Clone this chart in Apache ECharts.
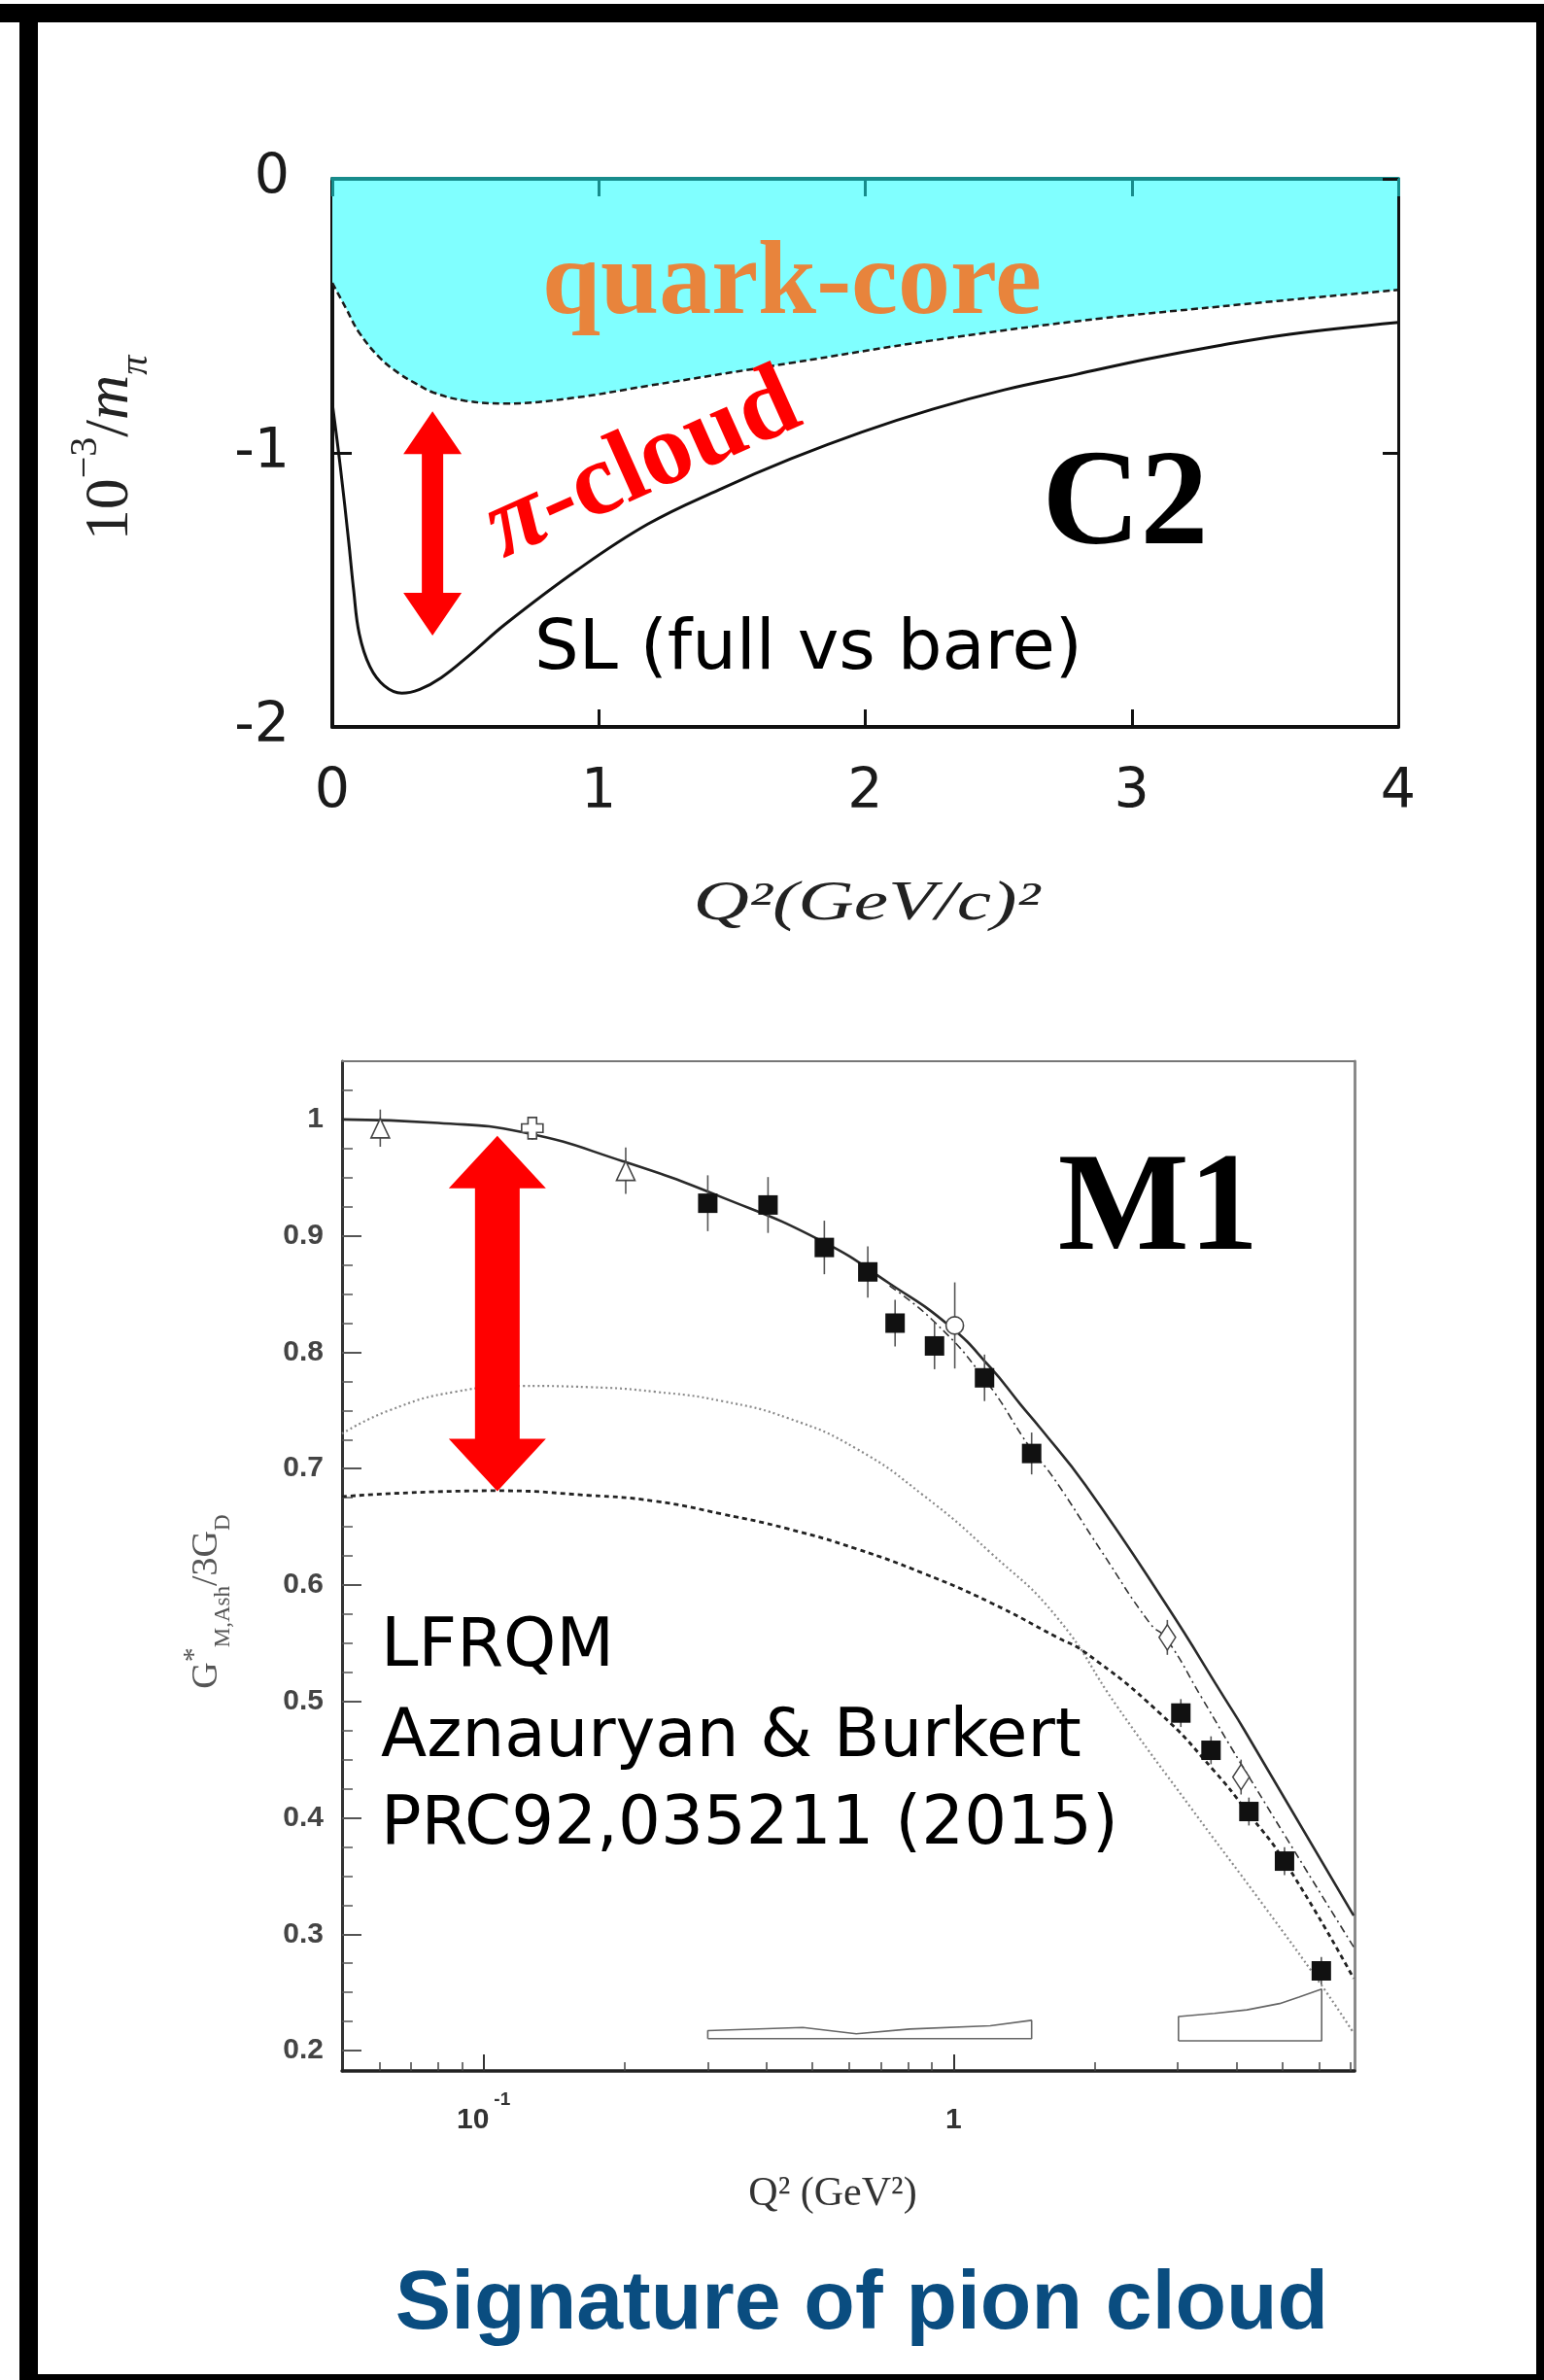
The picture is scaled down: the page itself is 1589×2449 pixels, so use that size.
<!DOCTYPE html>
<html>
<head>
<meta charset="utf-8">
<script src="https://cdn.jsdelivr.net/npm/echarts@6/dist/echarts.min.js"></script>
<style>
  html, body { margin: 0; padding: 0; background: #ffffff; }
  #chart { width: 1589px; height: 2449px; }
</style>
</head>
<body>
<div id="chart"></div>
<script>
// ---------- C2 panel: 10^-3 / m_pi versus Q^2 (GeV/c)^2 ----------
const c2Q2Bare = [0, 0.05, 0.1, 0.18, 0.25, 0.31, 0.38, 0.5, 0.65, 0.9, 1.18, 1.72, 2.25, 2.79, 3.33, 4.0];
const c2Bare   = [-0.38, -0.47, -0.56, -0.655, -0.71, -0.745, -0.78, -0.81, -0.82, -0.80, -0.756, -0.672, -0.59, -0.52, -0.466, -0.405];

const c2Q2Full = [0, 0.03, 0.061, 0.08, 0.101, 0.141, 0.195, 0.261, 0.328, 0.408, 0.516, 0.649, 0.917, 1.184, 1.452, 1.72, 1.987, 2.255, 2.522, 2.79, 3.057, 3.325, 3.592, 4.0];
const c2Full   = [-0.82, -1.05, -1.32, -1.50, -1.66, -1.78, -1.85, -1.877, -1.863, -1.821, -1.737, -1.625, -1.429, -1.26, -1.134, -1.022, -0.924, -0.84, -0.77, -0.714, -0.658, -0.609, -0.567, -0.524];

// pion-cloud gap marker: [Q2, top, bottom]
const c2CloudArrow = [0.376, -0.848, -1.667];

// ---------- M1 panel: G*_M,Ash / 3G_D versus Q^2 (GeV^2) ----------
const m1Q2Full = [0.05, 0.08, 0.121, 0.198, 0.322, 0.527, 0.731, 0.981, 1.197, 1.389, 1.528, 1.907, 2.835, 3.77, 4.148, 7.1];
const m1Full   = [1.0, 0.997, 0.989, 0.964, 0.933, 0.895, 0.859, 0.8225, 0.787, 0.755, 0.735, 0.686, 0.583, 0.503, 0.476, 0.316];

const m1Q2DashDot = [0.731, 0.911, 1.164, 1.466, 1.626, 2.064, 2.618, 2.835, 3.375, 4.08, 7.1];
const m1DashDot   = [0.857, 0.826, 0.777, 0.716, 0.693, 0.629, 0.567, 0.554, 0.503, 0.447, 0.289];

const m1Q2Dashed = [0.05, 0.106, 0.168, 0.232, 0.322, 0.447, 0.622, 0.863, 1.197, 1.661, 1.907, 2.745, 3.59, 4.2, 5.09, 7.1];
const m1Dashed   = [0.676, 0.681, 0.677, 0.672, 0.661, 0.648, 0.631, 0.610, 0.585, 0.555, 0.542, 0.490, 0.440, 0.406, 0.361, 0.262];

const m1Q2Dotted = [0.05, 0.063, 0.087, 0.121, 0.168, 0.232, 0.322, 0.447, 0.622, 0.863, 1.197, 1.661, 2.234, 3.193, 4.561, 6.069, 7.1];
const m1Dotted   = [0.730, 0.750, 0.766, 0.771, 0.770, 0.766, 0.758, 0.743, 0.717, 0.677, 0.628, 0.572, 0.495, 0.409, 0.325, 0.256, 0.215];

// measured points: Q2, value, error
const sqQ2  = [0.300, 0.403, 0.531, 0.657, 0.751, 0.911, 1.164, 1.466, 3.045, 3.53, 4.25, 5.06, 6.06];
const sqVal = [0.928, 0.9265, 0.890, 0.869, 0.825, 0.8054, 0.778, 0.713, 0.490, 0.458, 0.4054, 0.3628, 0.2685];
const sqErr = [0.024, 0.024, 0.023, 0.022, 0.020, 0.020, 0.020, 0.018, 0.012, 0.012, 0.012, 0.012, 0.012];

const triQ2  = [0.0603, 0.2007];
const triVal = [0.9925, 0.956];
const triErr = [0.016, 0.020];

const crossQ2  = [0.127];
const crossVal = [0.9925];
const crossErr = [0.010];

const circQ2  = [1.006];
const circVal = [0.823];
const circErr = [0.037];

const diaQ2  = [2.85, 4.09];
const diaVal = [0.555, 0.435];
const diaErr = [0.015, 0.015];

// systematic-uncertainty outlines
const band1Q2  = [0.300, 1.466, 1.466, 1.197, 0.807, 0.621, 0.478, 0.300, 0.300];
const band1Val = [0.2102, 0.2102, 0.226, 0.2213, 0.2185, 0.2144, 0.2199, 0.2171, 0.2102];
const band2Q2  = [3.01, 6.07, 6.07, 5.43, 4.94, 4.21, 3.59, 3.01, 3.01];
const band2Val = [0.2084, 0.2084, 0.2529, 0.246, 0.2404, 0.235, 0.232, 0.2292, 0.2084];

const m1CloudArrow = [0.107, 0.986, 0.6806];

// tick positions
const m1YMajor = [0.2, 0.3, 0.4, 0.5, 0.6, 0.7, 0.8, 0.9, 1];
const m1YMinor = [0.2, 0.225, 0.25, 0.275, 0.3, 0.325, 0.35, 0.375, 0.4, 0.425, 0.45, 0.475, 0.5, 0.525, 0.55, 0.575, 0.6, 0.625, 0.65, 0.675, 0.7, 0.725, 0.75, 0.775, 0.8, 0.825, 0.85, 0.875, 0.9, 0.925, 0.95, 0.975, 1, 1.025];
const m1XMajor = [0.1, 1];
const m1XMinor = [0.06, 0.07, 0.08, 0.09, 0.2, 0.3, 0.4, 0.5, 0.6, 0.7, 0.8, 0.9, 2, 3, 4, 5, 6, 7];

// ---------- helpers ----------
const zip = (xs, ys) => xs.map((x, i) => [x, ys[i]]);
const zip3 = (xs, ys, es) => xs.map((x, i) => [x, ys[i], es[i]]);

function errorBarItem(params, api) {
  const x = api.value(0), y = api.value(1), e = api.value(2);
  const lo = api.coord([x, y - e]);
  const hi = api.coord([x, y + e]);
  return {
    type: 'line',
    shape: { x1: lo[0], y1: lo[1], x2: hi[0], y2: hi[1] },
    style: { stroke: '#555', lineWidth: 1.6 }
  };
}

function doubleArrow(head, halfHead, halfShaft) {
  return function (params, api) {
    const top = api.coord([api.value(0), api.value(1)]);
    const bot = api.coord([api.value(0), api.value(2)]);
    const cx = top[0];
    const pts = [
      [cx, top[1]],
      [cx + halfHead, top[1] + head],
      [cx + halfShaft, top[1] + head],
      [cx + halfShaft, bot[1] - head],
      [cx + halfHead, bot[1] - head],
      [cx, bot[1]],
      [cx - halfHead, bot[1] - head],
      [cx - halfShaft, bot[1] - head],
      [cx - halfShaft, top[1] + head],
      [cx - halfHead, top[1] + head]
    ];
    return { type: 'polygon', shape: { points: pts }, style: { fill: '#ff0000' } };
  };
}

const serif = '"Liberation Serif", "Times New Roman", serif';
const comic = '"Comic Sans MS", "DejaVu Sans", sans-serif';
const CROSS_PATH = 'path://M3,0 H7 V3 H10 V7 H7 V10 H3 V7 H0 V3 H3 Z';

function textEl(x, y, text, font, fill, extra) {
  return Object.assign({
    type: 'text', x: x, y: y, z: 50,
    style: Object.assign({
      text: text, font: font, fill: fill,
      align: 'center', textAlign: 'center',
      verticalAlign: 'middle', textVerticalAlign: 'middle'
    }, (extra && extra.style) || {})
  }, (extra && extra.el) || {});
}

const chart = echarts.init(document.getElementById('chart'), null, { renderer: 'canvas', width: 1589, height: 2449 });

const option = {
  backgroundColor: '#ffffff',
  animation: false,
  grid: [
    { left: 342, top: 184, width: 1097, height: 564 },
    { left: 352, top: 1092, width: 1042, height: 1039 }
  ],
  xAxis: [
    { gridIndex: 0, type: 'value', min: 0, max: 4, interval: 1, position: 'bottom',
      axisLine: { onZero: false, lineStyle: { color: '#111', width: 4 } },
      axisTick: { inside: true, length: 18, lineStyle: { color: '#111', width: 3 } },
      axisLabel: { margin: 40, fontSize: 57, fontFamily: 'DejaVu Sans', color: '#1a1a1a' },
      splitLine: { show: false } },
    { gridIndex: 0, type: 'value', min: 0, max: 4, interval: 1, position: 'top', z: 5,
      axisLine: { onZero: false, lineStyle: { color: '#178c8c', width: 4 } },
      axisTick: { inside: true, length: 18, lineStyle: { color: '#178c8c', width: 3 } },
      axisLabel: { show: false }, splitLine: { show: false } },
    { gridIndex: 1, type: 'log', logBase: 10, min: 0.05, max: 7.13, position: 'bottom',
      axisLine: { onZero: false, lineStyle: { color: '#222', width: 3.5 } },
      axisTick: { inside: true, length: 17, customValues: m1XMajor, lineStyle: { color: '#333', width: 2 } },
      minorTick: { show: false },
      axisLabel: {
        customValues: m1XMajor, margin: 20,
        formatter: function (v) { return Math.abs(v - 0.1) < 1e-9 ? '{b|10}{s|-1}' : '{b|' + v + '}'; },
        rich: {
          b: { fontSize: 30, fontWeight: 'bold', fontFamily: '"Liberation Sans Narrow", "Liberation Sans"', color: '#333', lineHeight: 46, verticalAlign: 'bottom' },
          s: { fontSize: 19, fontWeight: 'bold', fontFamily: '"Liberation Sans Narrow", "Liberation Sans"', color: '#333', lineHeight: 22, verticalAlign: 'top', padding: [0, 0, 0, 5] }
        }
      },
      splitLine: { show: false } },
    { gridIndex: 1, type: 'log', logBase: 10, min: 0.05, max: 7.13, position: 'bottom',
      axisLine: { show: false },
      axisTick: { inside: true, length: 9, customValues: m1XMinor, lineStyle: { color: '#444', width: 1.5 } },
      axisLabel: { show: false }, splitLine: { show: false } },
    { gridIndex: 1, type: 'log', logBase: 10, min: 0.05, max: 7.13, position: 'top',
      axisLine: { lineStyle: { color: '#777', width: 2 } },
      axisTick: { show: false }, axisLabel: { show: false }, splitLine: { show: false } }
  ],
  yAxis: [
    { gridIndex: 0, type: 'value', min: -2, max: 0, interval: 1, position: 'left',
      axisLine: { onZero: false, lineStyle: { color: '#111', width: 4 } },
      axisTick: { inside: true, length: 20, lineStyle: { color: '#111', width: 3 } },
      axisLabel: { margin: 44, fontSize: 57, fontFamily: 'DejaVu Sans', color: '#1a1a1a' },
      splitLine: { show: false } },
    { gridIndex: 0, type: 'value', min: -2, max: 0, interval: 1, position: 'right', z: 5,
      axisLine: { onZero: false, lineStyle: { color: '#111', width: 3 } },
      axisTick: { inside: true, length: 16, lineStyle: { color: '#111', width: 3 } },
      axisLabel: { show: false }, splitLine: { show: false } },
    { gridIndex: 1, type: 'value', min: 0.1825, max: 1.05, position: 'left',
      axisLine: { onZero: false, lineStyle: { color: '#333', width: 3 } },
      axisTick: { inside: true, length: 20, customValues: m1YMajor, lineStyle: { color: '#555', width: 2 } },
      axisLabel: { customValues: m1YMajor, margin: 19, fontSize: 30, fontWeight: 'bold', fontFamily: '"Liberation Sans"', color: '#444' },
      splitLine: { show: false } },
    { gridIndex: 1, type: 'value', min: 0.1825, max: 1.05, position: 'left',
      axisLine: { show: false },
      axisTick: { inside: true, length: 11, customValues: m1YMinor, lineStyle: { color: '#555', width: 1.5 } },
      axisLabel: { show: false }, splitLine: { show: false } },
    { gridIndex: 1, type: 'value', min: 0.1825, max: 1.05, position: 'right',
      axisLine: { onZero: false, lineStyle: { color: '#8a8a8a', width: 3 } },
      axisTick: { show: false }, axisLabel: { show: false }, splitLine: { show: false } }
  ],
  series: [
    // C2: bare quark core with shaded region up to zero
    { type: 'line', xAxisIndex: 0, yAxisIndex: 0, data: zip(c2Q2Bare, c2Bare),
      symbol: 'none', smooth: 0.4, z: 2,
      lineStyle: { color: '#1a1a1a', width: 2.5, type: [7, 4] },
      areaStyle: { color: '#80ffff', opacity: 1, origin: 'end' } },
    // C2: full result
    { type: 'line', xAxisIndex: 0, yAxisIndex: 0, data: zip(c2Q2Full, c2Full),
      symbol: 'none', smooth: 0.4, z: 3,
      lineStyle: { color: '#111', width: 3 } },
    { type: 'custom', xAxisIndex: 0, yAxisIndex: 0, data: [c2CloudArrow], z: 6,
      encode: { x: 0, y: [1, 2] }, renderItem: doubleArrow(44, 30, 11) },

    // M1 curves
    { type: 'line', xAxisIndex: 2, yAxisIndex: 2, data: zip(m1Q2Dotted, m1Dotted),
      symbol: 'none', smooth: 0.5, z: 2, lineStyle: { color: '#8a8a8a', width: 2.2, type: [2, 3] } },
    { type: 'line', xAxisIndex: 2, yAxisIndex: 2, data: zip(m1Q2Dashed, m1Dashed),
      symbol: 'none', smooth: 0.5, z: 2, lineStyle: { color: '#222', width: 2.8, type: [5, 4] } },
    { type: 'line', xAxisIndex: 2, yAxisIndex: 2, data: zip(m1Q2DashDot, m1DashDot),
      symbol: 'none', smooth: 0.5, z: 2, lineStyle: { color: '#333', width: 1.6, type: [8, 4, 2, 4] } },
    { type: 'line', xAxisIndex: 2, yAxisIndex: 2, data: zip(m1Q2Full, m1Full),
      symbol: 'none', smooth: 0.5, z: 3, lineStyle: { color: '#2a2a2a', width: 2.6 } },
    { type: 'line', xAxisIndex: 2, yAxisIndex: 2, data: zip(band1Q2, band1Val),
      symbol: 'none', z: 2, lineStyle: { color: '#666', width: 1.6 } },
    { type: 'line', xAxisIndex: 2, yAxisIndex: 2, data: zip(band2Q2, band2Val),
      symbol: 'none', z: 2, lineStyle: { color: '#666', width: 1.6 } },

    // M1 error bars
    { type: 'custom', xAxisIndex: 2, yAxisIndex: 2, z: 4, encode: { x: 0, y: 1 }, renderItem: errorBarItem,
      data: zip3(sqQ2, sqVal, sqErr).concat(zip3(triQ2, triVal, triErr), zip3(crossQ2, crossVal, crossErr),
                                             zip3(circQ2, circVal, circErr), zip3(diaQ2, diaVal, diaErr)) },

    // M1 markers
    { type: 'scatter', xAxisIndex: 2, yAxisIndex: 2, z: 5, data: zip(sqQ2, sqVal),
      symbol: 'rect', symbolSize: 20, itemStyle: { color: '#111', opacity: 1 } },
    { type: 'scatter', xAxisIndex: 2, yAxisIndex: 2, z: 5, data: zip(triQ2, triVal),
      symbol: 'triangle', symbolSize: [19, 20], itemStyle: { color: '#ffffff', borderColor: '#444', borderWidth: 1.6, opacity: 1 } },
    { type: 'scatter', xAxisIndex: 2, yAxisIndex: 2, z: 5, data: zip(crossQ2, crossVal),
      symbol: CROSS_PATH, symbolSize: 22, itemStyle: { color: '#ffffff', borderColor: '#444', borderWidth: 1.6, opacity: 1 } },
    { type: 'scatter', xAxisIndex: 2, yAxisIndex: 2, z: 5, data: zip(circQ2, circVal),
      symbol: 'circle', symbolSize: 18, itemStyle: { color: '#ffffff', borderColor: '#444', borderWidth: 1.6, opacity: 1 } },
    { type: 'scatter', xAxisIndex: 2, yAxisIndex: 2, z: 5, data: zip(diaQ2, diaVal),
      symbol: 'diamond', symbolSize: [17, 26], itemStyle: { color: '#ffffff', borderColor: '#444', borderWidth: 1.6, opacity: 1 } },

    { type: 'custom', xAxisIndex: 2, yAxisIndex: 2, data: [m1CloudArrow], z: 8,
      encode: { x: 0, y: [1, 2] }, renderItem: doubleArrow(54, 50, 23) }
  ],
  graphic: {
    elements: [
      // slide frame
      { type: 'rect', z: 100, shape: { x: 0, y: 4, width: 1589, height: 19 }, style: { fill: '#000' } },
      { type: 'rect', z: 100, shape: { x: 20, y: 4, width: 19, height: 2445 }, style: { fill: '#000' } },
      { type: 'rect', z: 100, shape: { x: 1581, y: 4, width: 8, height: 2445 }, style: { fill: '#000' } },
      { type: 'rect', z: 100, shape: { x: 20, y: 2443, width: 1569, height: 6 }, style: { fill: '#000' } },

      // C2 annotations
      textEl(815, 294, 'quark-core', 'bold 108px ' + serif, '#e8843c'),
      textEl(662, 480, '{p|π}-cloud', 'bold 106px ' + serif, '#ff0000', {
        el: { rotation: 0.42 },
        style: { rich: { p: { fontStyle: 'italic', fontWeight: 'bold', fontSize: 106, fontFamily: serif, fill: '#ff0000' } } }
      }),
      textEl(1158, 523, 'C2', 'bold 140px ' + serif, '#000'),
      textEl(550, 669, 'SL (full vs bare)', '72px ' + comic, '#000', { style: { align: 'left', textAlign: 'left' } }),
      textEl(892, 931, 'Q²(GeV/c)²', 'italic 56px ' + serif, '#222', { el: { scaleX: 1.42 } }),
      textEl(114, 461, '{n|10}{sup|−3}{n|/}{it|m}{sub|π}', '64px ' + serif, '#222', {
        el: { rotation: Math.PI / 2 },
        style: { rich: {
          n: { fontSize: 64, fontFamily: serif, fill: '#222', lineHeight: 92, verticalAlign: 'middle' },
          sup: { fontSize: 40, fontFamily: serif, fill: '#222', lineHeight: 42, verticalAlign: 'top' },
          it: { fontSize: 64, fontStyle: 'italic', fontFamily: serif, fill: '#222', lineHeight: 92, verticalAlign: 'middle' },
          sub: { fontSize: 40, fontStyle: 'italic', fontFamily: serif, fill: '#222', lineHeight: 42, verticalAlign: 'bottom' }
        } }
      }),

      // M1 annotations
      textEl(1192, 1248, 'M1', 'bold 143px ' + serif, '#000'),
      textEl(392, 1696, 'LFRQM', '69px ' + comic, '#000', { style: { align: 'left', textAlign: 'left' } }),
      textEl(392, 1789, 'Aznauryan & Burkert', '69px ' + comic, '#000', { style: { align: 'left', textAlign: 'left' } }),
      textEl(392, 1879, 'PRC92,035211 (2015)', '69px ' + comic, '#000', { style: { align: 'left', textAlign: 'left' } }),
      textEl(857, 2258, 'Q² (GeV²)', '42px ' + serif, '#333'),
      textEl(213, 1648, '{n|G}{sup|*}{sub|M,Ash}{n|/3G}{sub|D}', '38px ' + serif, '#555', {
        el: { rotation: Math.PI / 2 },
        style: { rich: {
          n: { fontSize: 38, fontFamily: serif, fill: '#555', lineHeight: 56, verticalAlign: 'middle' },
          sup: { fontSize: 30, fontFamily: serif, fill: '#555', lineHeight: 30, verticalAlign: 'top' },
          sub: { fontSize: 23, fontFamily: serif, fill: '#555', lineHeight: 25, verticalAlign: 'bottom' }
        } }
      }),

      // caption
      textEl(887, 2372, 'Signature of pion cloud', 'bold 86px "Liberation Sans", Arial, sans-serif', '#0a4d80')
    ]
  }
};

chart.setOption(option);
</script>
</body>
</html>
